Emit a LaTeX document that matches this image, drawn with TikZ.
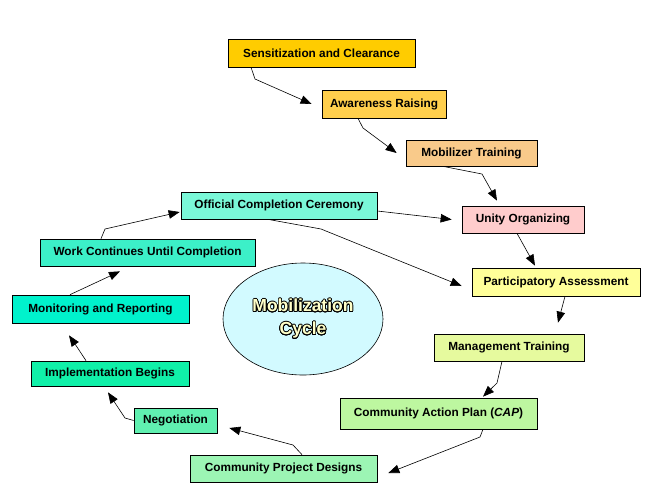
\documentclass[tikz,border=0pt]{standalone}
\usepackage{fontspec}
\setmainfont{Liberation Sans}
\usepackage{contour}
\contourlength{0.7pt}
\contournumber{24}
\usetikzlibrary{shapes,arrows.meta}
\definecolor{sensC}{HTML}{FFCC00}
\definecolor{awareC}{HTML}{FFCF4D}
\definecolor{mobilC}{HTML}{F9CA8A}
\definecolor{unityC}{HTML}{FFCCCC}
\definecolor{particC}{HTML}{FFFF99}
\definecolor{manageC}{HTML}{E6FA9E}
\definecolor{capC}{HTML}{BDF7A0}
\definecolor{designC}{HTML}{9CF5B4}
\definecolor{negotC}{HTML}{60F0B0}
\definecolor{implC}{HTML}{10F0A8}
\definecolor{monitC}{HTML}{00F2CC}
\definecolor{workC}{HTML}{3CF0C8}
\definecolor{officC}{HTML}{7AF8D8}
\definecolor{cycleC}{HTML}{D2FAFF}
\definecolor{cycleT}{HTML}{FFFFC8}

\begin{document}
\begin{tikzpicture}[x=1pt, y=-1pt,
    stage/.style={draw, line width=0.7pt, inner sep=0pt, align=center, font=\fontsize{11.8}{13}\selectfont\bfseries},
    flow/.style={-{Triangle[length=11pt,width=8.5pt]}, line width=0.6pt}]
    \useasboundingbox (0,0) rectangle (669,483);
    \node[stage, fill=sensC, minimum width=187pt, minimum height=28pt] at (321.5,53) (sens) {Sensitization and Clearance};
    \node[stage, fill=awareC, minimum width=124pt, minimum height=28pt] at (384,104) (aware) {Awareness Raising};
    \draw[flow] ([xshift=-70.5pt]sens.south) -- (255,79) -- ([xshift=-10pt]aware.west);
    \node[stage, fill=mobilC, minimum width=131pt, minimum height=26pt] at (471.5,153) (mobil) {Mobilizer Training};
    \draw[flow] ([xshift=-26pt]aware.south) -- (363,128) -- ([xshift=-9pt]mobil.west);
    \node[stage, fill=unityC, minimum width=122pt, minimum height=27pt] at (523,219.5) (unity) {Unity Organizing};
    \draw[flow] ([xshift=-28.5pt]mobil.south) -- (482,174) -- ([xshift=-26pt,yshift=5pt]unity.north);
    \node[stage, fill=particC, minimum width=168pt, minimum height=28pt] at (556,282) (partic) {Participatory Assessment};
    \draw[flow] ([xshift=-6pt]unity.south) -- ([xshift=-21pt,yshift=2pt]partic.north);
    \node[stage, fill=manageC, minimum width=150pt, minimum height=27pt] at (509,347.5) (manage) {Management Training};
    \draw[flow] ([xshift=9pt]partic.south) -- ([xshift=49pt,yshift=11pt]manage.north);
    \node[stage, fill=capC, minimum width=197pt, minimum height=31pt] at (438.5,413.5) (cap) {Community Action Plan (\textit{CAP})};
    \draw[flow] ([xshift=-7pt]manage.south) -- (497,383) -- ([xshift=44.5pt,yshift=1pt]cap.north);
    \node[stage, fill=designC, minimum width=187pt, minimum height=27pt] at (283.5,468.5) (design) {Community Project Designs};
    \draw[flow] ([xshift=44.5pt]cap.south) -- (480,437) -- ([xshift=11pt,yshift=-4.5pt]design.east);
    \node[stage, fill=negotC, minimum width=83pt, minimum height=25pt] at (175.5,420.5) (negot) {Negotiation};
    \draw[flow] ([xshift=18.5pt]design.north) -- (293,445) -- ([xshift=12pt,yshift=-7.5pt]negot.east);
    \node[stage, fill=implC, minimum width=158pt, minimum height=25pt] at (110,373.5) (impl) {Implementation Begins};
    \draw[flow] (negot.west) -- (125,418) -- ([xshift=-2pt,yshift=-6pt]impl.south);
    \node[stage, fill=monitC, minimum width=177pt, minimum height=28pt] at (100.5,309) (monit) {Monitoring and Reporting};
    \draw[flow] ([xshift=-24pt]impl.north) -- (77,347) -- ([xshift=-31.5pt,yshift=-12pt]monit.south);
    \node[stage, fill=workC, minimum width=215pt, minimum height=27pt] at (147.5,252.5) (work) {Work Continues Until Completion};
    \draw[flow] ([xshift=-30.5pt]monit.north) -- ([xshift=-27.5pt,yshift=-5pt]work.south);
    \node[stage, fill=officC, minimum width=196pt, minimum height=27pt] at (279,205.5) (offic) {Official Completion Ceremony};
    \draw[flow] ([xshift=-46.5pt]work.north) -- (105,229) -- ([xshift=-1pt,yshift=-6.5pt]offic.west);
    \draw[flow] ([yshift=-5.5pt]offic.east) -- ([xshift=-10pt]unity.west);
    \draw[flow] ([xshift=-11pt]offic.south) -- (321,229) -- ([xshift=-10pt,yshift=-4pt]partic.west);
    % centre of the cycle
    \node[ellipse, draw, line width=0.6pt, fill=cycleC, minimum width=160pt, minimum height=112pt, inner sep=0pt, align=center,
      font=\fontsize{17.5}{23}\selectfont\bfseries] at (303,319) (cycle)
      {\contour{black}{\textcolor{cycleT}{Mobilization}}\\\contour{black}{\textcolor{cycleT}{Cycle}}};
\end{tikzpicture}
\end{document}
